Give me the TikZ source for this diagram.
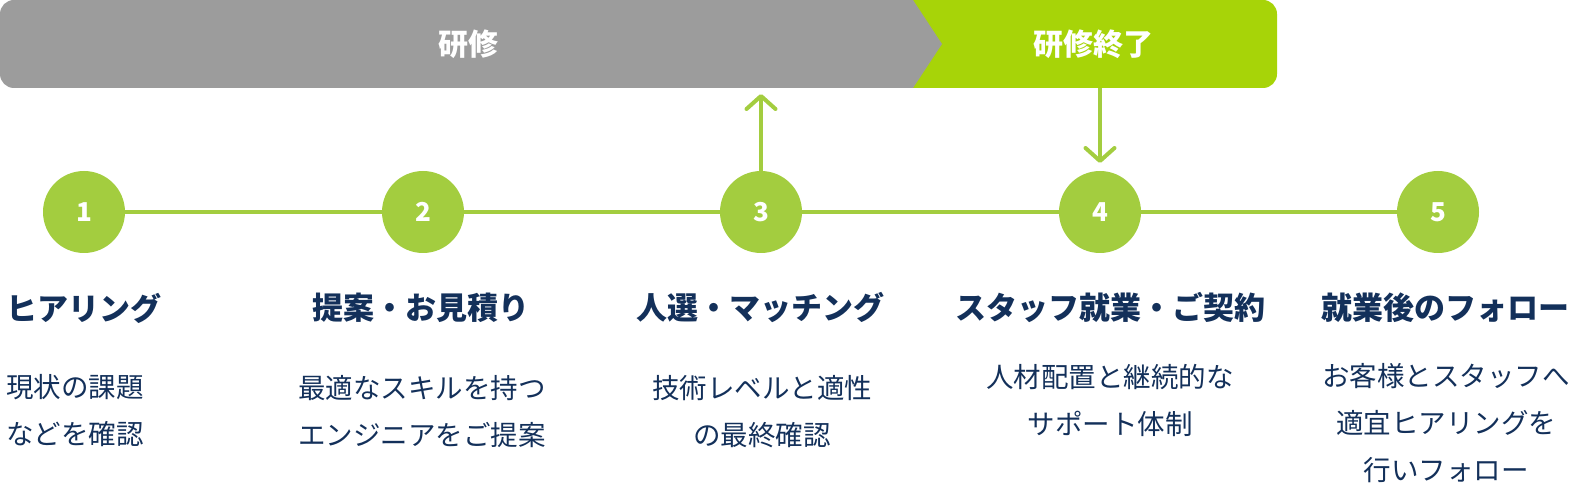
\documentclass[tikz,border=0pt]{standalone}
\usepackage{fontspec}
\setmainfont{Noto Sans CJK JP}
\usetikzlibrary{arrows.meta}
\definecolor{bargray}{HTML}{9C9C9C}
\definecolor{bargreen}{HTML}{A7D408}
\definecolor{stepgreen}{HTML}{A3CD3F}
\definecolor{navy}{HTML}{13305A}
\tikzset{
  bartext/.style={text=white, inner sep=0pt, font=\fontsize{30}{36}\selectfont\bfseries},
  stepcircle/.style={circle, fill=stepgreen, minimum size=82pt, inner sep=0pt, text=white, font=\fontsize{26}{30}\selectfont\bfseries},
  conn/.style={draw=stepgreen, line width=4pt},
  barb/.style={-{Straight Barb[length=13pt,width=29pt,round]}},
  title/.style={text=navy, inner sep=0pt, font=\fontsize{31}{37}\selectfont\bfseries},
  desc/.style={text=navy, inner sep=0pt, font=\fontsize{27.5}{47}\selectfont},
}
\begin{document}
\begin{tikzpicture}[x=1pt,y=-1pt]
\useasboundingbox (0,0) rectangle (1575,494);
% bar
\fill[bargreen, rounded corners=14pt] (880,0) rectangle (1277,88);
\fill[bargray, rounded corners=14pt] (0,0) rectangle (870,88);
\fill[bargray] (850,0) -- (913,0) -- (942,44) -- (913,88) -- (850,88) -- cycle;
\node[bartext] (t1) at (468,44) {研修};
\node[bartext] (t2) at (1093,44) {研修終了};
% steps
\node[stepcircle] (c1) at (84,212) {1};
\node[stepcircle] (c2) at (423,212) {2};
\node[stepcircle] (c3) at (761,212) {3};
\node[stepcircle] (c4) at (1100,212) {4};
\node[stepcircle] (c5) at (1438,212) {5};
\draw[conn] (c1) -- (c2);
\draw[conn] (c2) -- (c3);
\draw[conn] (c3) -- (c4);
\draw[conn] (c4) -- (c5);
% arrows
\coordinate (up3) at (761,94);
\coordinate (bar4) at (1100,88);
\coordinate (down4) at (1100,163);
\draw[conn, barb] (c3.north) -- (up3);
\draw[conn, barb] (bar4) -- (down4);
% titles
\node[title, anchor=west] (h1) at (6,308) {ヒアリング};
\node[title] (h2) at (421,308) {提案・お見積り};
\node[title] (h3) at (760,308) {人選・マッチング};
\node[title] (h4) at (1110,308) {スタッフ就業・ご契約};
\node[title] (h5) at (1445,308) {就業後のフォロー};
% descriptions
\node[desc, anchor=west, align=left] (d1) at (6,411) {現状の課題\\などを確認};
\node[desc, align=center] (d2) at (422,411.5) {最適なスキルを持つ\\エンジニアをご提案};
\node[desc, align=center] (d3) at (762,411.5) {技術レベルと適性\\の最終確認};
\node[desc, align=center] (d4) at (1110,400) {人材配置と継続的な\\サポート体制};
\node[desc, align=center] (d5) at (1446,423.5) {お客様とスタッフへ\\適宜ヒアリングを\\行いフォロー};
\end{tikzpicture}
\end{document}
